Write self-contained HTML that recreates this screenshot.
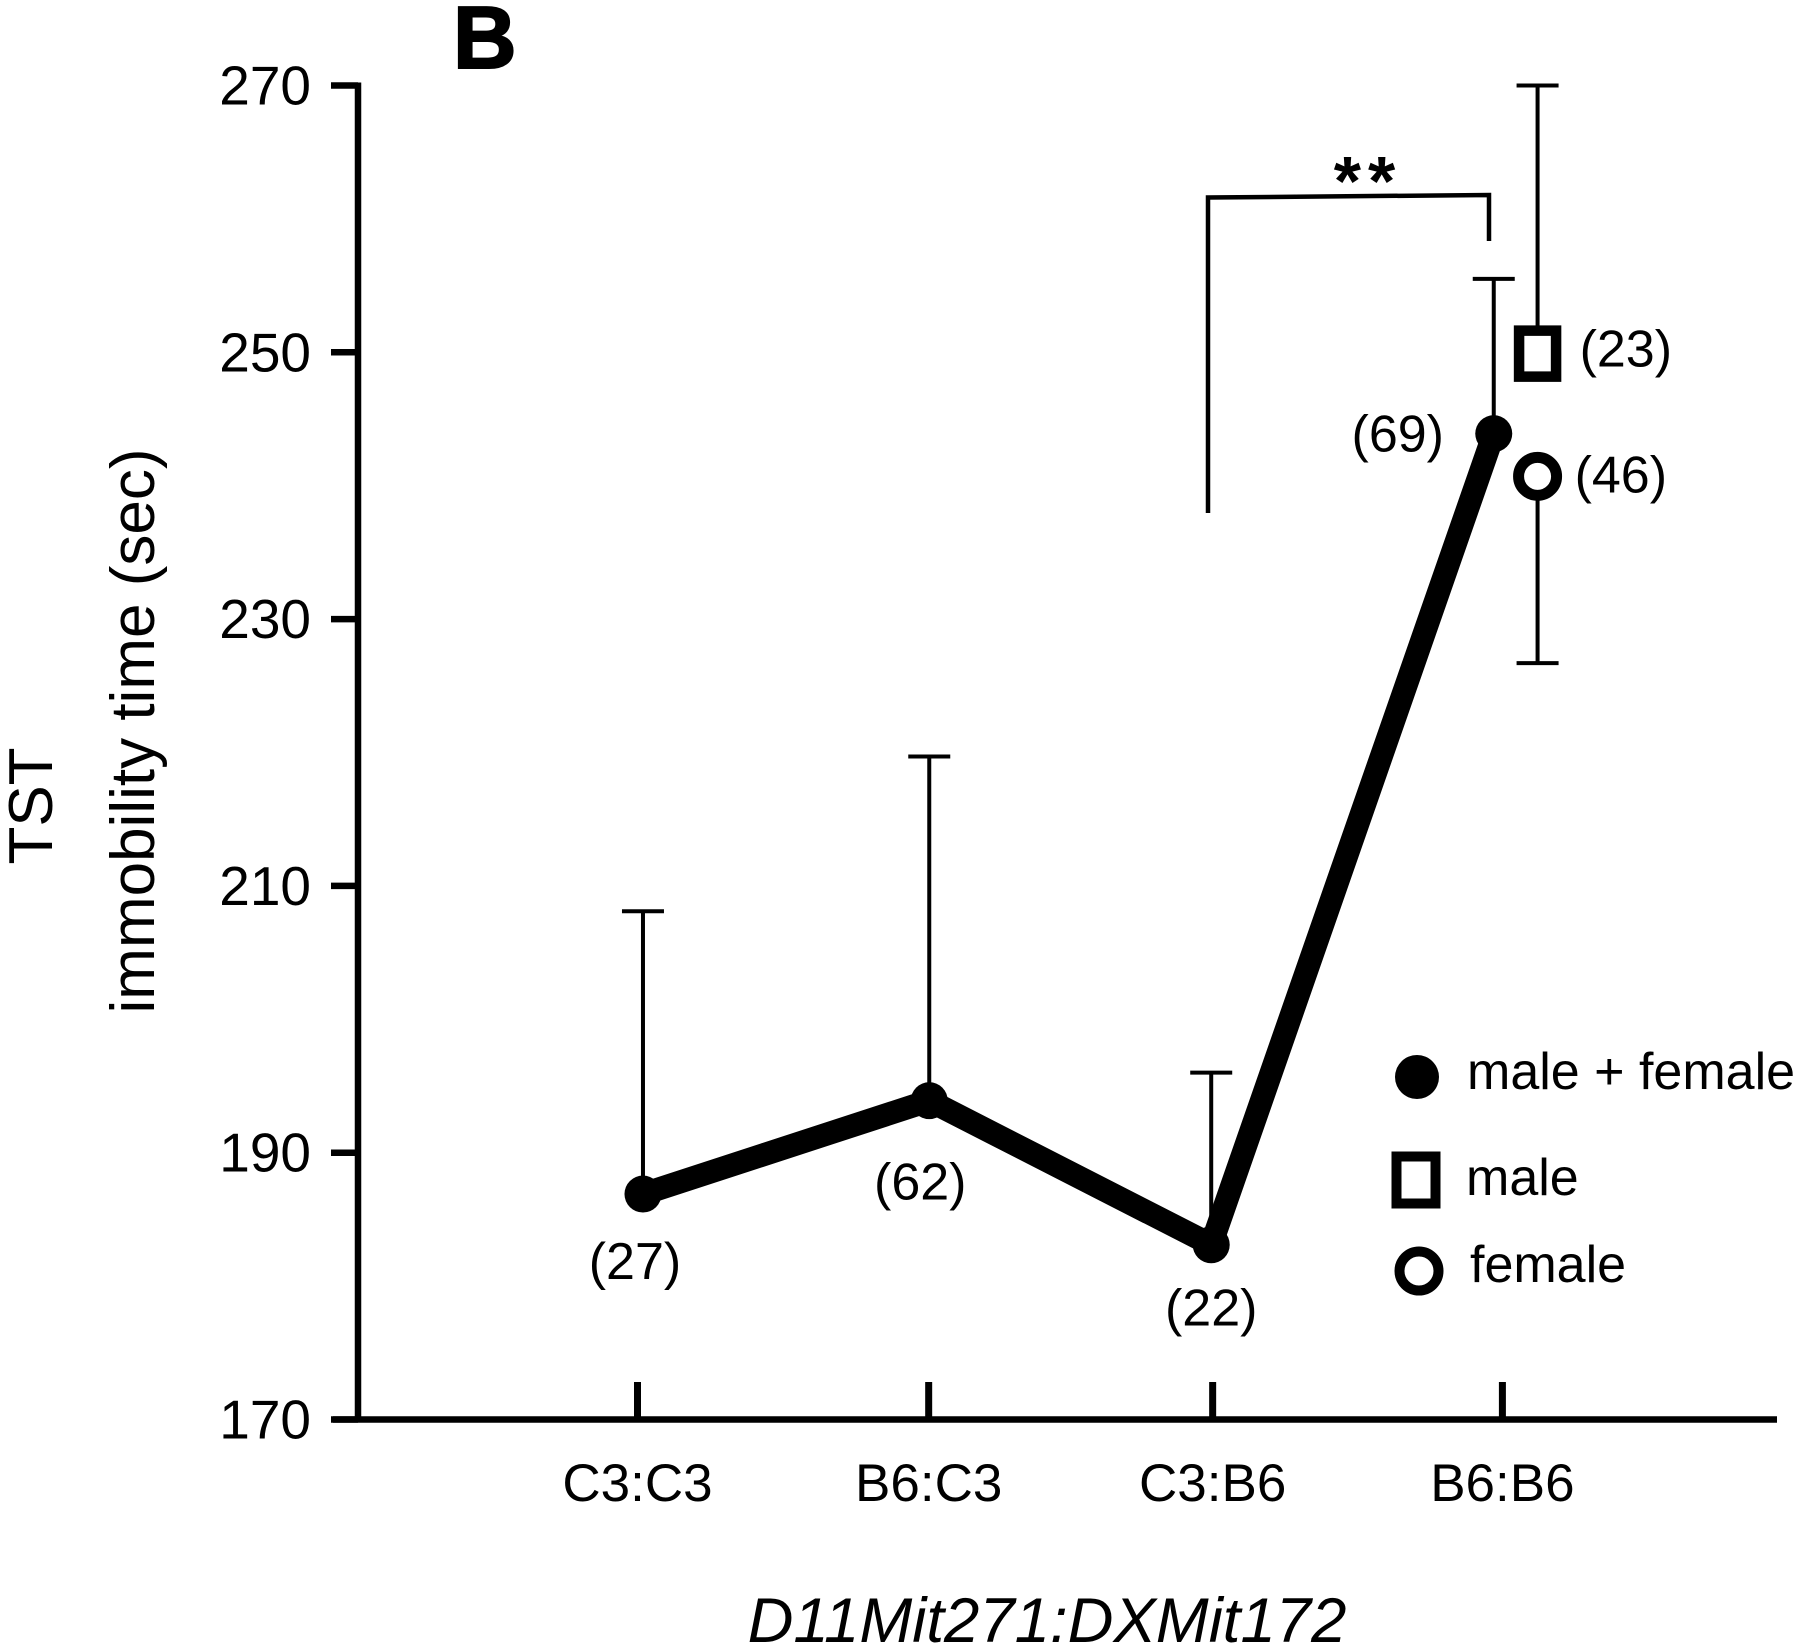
<!DOCTYPE html>
<html lang="en">
<head>
<meta charset="utf-8">
<title>TST immobility time by genotype</title>
<style>
html,body{margin:0;padding:0;background:#fff}
svg{display:block;width:1800px;height:1647px}
text{font-family:"Liberation Sans",sans-serif;fill:#000}
</style>
</head>
<body>
<svg id="chart" xmlns="http://www.w3.org/2000/svg" width="1800" height="1647" viewBox="0 0 1800 1647">
  <rect x="0" y="0" width="1800" height="1647" fill="#fff"/>
  <text x="453" y="68" font-size="88" font-weight="700" stroke="#000" stroke-width="2">B</text>
  <text transform="translate(52 806) rotate(-90)" text-anchor="middle" font-size="62">TST</text>
  <text transform="translate(154 731) rotate(-90)" text-anchor="middle" font-size="62">immobility time (sec)</text>
  <text x="1047" y="1642" text-anchor="middle" font-size="63.5" font-style="italic">D11Mit271:DXMit172</text>
  <g id="axes"></g>
  <g id="marks"></g>
  <g>
    <path d="M1208 513V197.5L1489 195V241" fill="none" stroke="#000" stroke-width="4.5"/>
    <text x="1368" y="205" text-anchor="middle" font-size="70" font-weight="700" letter-spacing="7">**</text>
  </g>
  <g>
    <g>
      <circle cx="1417" cy="1077" r="22" fill="#000"/>
      <text x="1467" y="1089" font-size="52">male + female</text>
    </g>
    <g>
      <rect x="1396.5" y="1156.5" width="39" height="47" fill="#fff" stroke="#000" stroke-width="10"/>
      <text x="1466" y="1195" font-size="52">male</text>
    </g>
    <g>
      <circle cx="1419" cy="1271" r="19.5" fill="#fff" stroke="#000" stroke-width="10"/>
      <text x="1470" y="1282" font-size="52">female</text>
    </g>
  </g>
</svg>
<script>
const categories = ['C3:C3', 'B6:C3', 'C3:B6', 'B6:B6'];
const yTicks = [170, 190, 210, 230, 250, 270];
const meanValues = [186.9, 193.9, 183.1, 243.9];
const meanUpper = [208.1, 219.7, 196, 255.5];
const sampleSizes = ['(27)', '(62)', '(22)', '(69)'];
const maleMean = 249.9;
const maleUpper = 270;
const maleSize = '(23)';
const femaleMean = 240.7;
const femaleLower = 226.7;
const femaleSize = '(46)';

const NS = 'http://www.w3.org/2000/svg';
const axes = document.getElementById('axes');
const marks = document.getElementById('marks');
const yScale = v => 1419.5 - (v - 170) * 13.34;
const xScale = c => 637.5 + c * 288.3;

function make(parent, tag, props, content) {
  const el = document.createElementNS(NS, tag);
  for (const k in props) el.setAttribute(k, props[k]);
  if (content !== undefined) el.textContent = content;
  parent.appendChild(el);
  return el;
}
function line(parent, x1, y1, x2, y2, w) {
  return make(parent, 'line', { x1, y1, x2, y2, stroke: '#000', 'stroke-width': w });
}
function nameIt(el, name) {
  
  
  return el;
}

nameIt(line(axes, 358, yScale(270) - 3, 358, yScale(170) + 3, 6.5), 'y-axis-line');
nameIt(line(axes, 333, yScale(170), 1777, yScale(170), 6.5), 'x-axis-line');

yTicks.forEach(v => {
  nameIt(line(axes, 331, yScale(v), 358, yScale(v), 6.5), 'y-tick-' + v);
  nameIt(make(axes, 'text', { x: 311, y: yScale(v) + 19, 'text-anchor': 'end', 'font-size': 55 }, String(v)), 'y-tick-label-' + v);
});

// Tick and marker slots sit slightly off the regular grid in the original figure.
const tickSlots = [0, 1.01, 1.995, 3];
const meanSlots = [0.019, 1.012, 1.99, 2.97];
const groupSlot = 3.122;

categories.forEach((c, i) => {
  nameIt(line(axes, xScale(tickSlots[i]), yScale(170), xScale(tickSlots[i]), 1382, 7), 'x-tick-' + c);
  nameIt(make(axes, 'text', { x: xScale(tickSlots[i]), y: 1501, 'text-anchor': 'middle', 'font-size': 53 }, c), 'x-tick-label-' + c);
});

meanValues.forEach((v, i) => {
  const x = xScale(meanSlots[i]);
  nameIt(line(marks, x, yScale(v), x, yScale(meanUpper[i]), 4), 'error-bar-' + categories[i]);
  nameIt(line(marks, x - 21, yScale(meanUpper[i]), x + 21, yScale(meanUpper[i]), 4), 'error-cap-' + categories[i]);
});

const pts = meanValues.map((v, i) => xScale(meanSlots[i]) + ',' + yScale(v)).join(' ');
nameIt(make(marks, 'polyline', { points: pts, fill: 'none', stroke: '#000', 'stroke-width': 23, 'stroke-linejoin': 'round' }), 'mean-line');

meanValues.forEach((v, i) => {
  nameIt(make(marks, 'circle', { cx: xScale(meanSlots[i]), cy: yScale(v), r: 18.5, fill: '#000' }), 'mean-point-' + categories[i]);
});

const sizeOffsets = [[-8, 85], [-9, 99], [0, 81], [-96, 18]];
sampleSizes.forEach((s, i) => {
  nameIt(make(marks, 'text', {
    x: xScale(meanSlots[i]) + sizeOffsets[i][0],
    y: yScale(meanValues[i]) + sizeOffsets[i][1],
    'text-anchor': 'middle',
    'font-size': 52
  }, s), 'sample-size-' + categories[i]);
});

const gx = xScale(groupSlot);
nameIt(line(marks, gx, yScale(maleMean), gx, yScale(maleUpper), 4), 'male-error-bar');
nameIt(line(marks, gx - 21, yScale(maleUpper), gx + 21, yScale(maleUpper), 4), 'male-error-cap');
nameIt(make(marks, 'rect', { x: gx - 18.5, y: yScale(maleMean) - 23, width: 37, height: 46, fill: '#fff', stroke: '#000', 'stroke-width': 10.5 }), 'male-point');
nameIt(make(marks, 'text', { x: gx + 42, y: yScale(maleMean) + 13, 'font-size': 52 }, maleSize), 'male-sample-size');

nameIt(line(marks, gx, yScale(femaleMean), gx, yScale(femaleLower), 4), 'female-error-bar');
nameIt(line(marks, gx - 21, yScale(femaleLower), gx + 21, yScale(femaleLower), 4), 'female-error-cap');
nameIt(make(marks, 'circle', { cx: gx, cy: yScale(femaleMean), r: 19, fill: '#fff', stroke: '#000', 'stroke-width': 11 }), 'female-point');
nameIt(make(marks, 'text', { x: gx + 37, y: yScale(femaleMean) + 16, 'font-size': 52 }, femaleSize), 'female-sample-size');
</script>
</body>
</html>
